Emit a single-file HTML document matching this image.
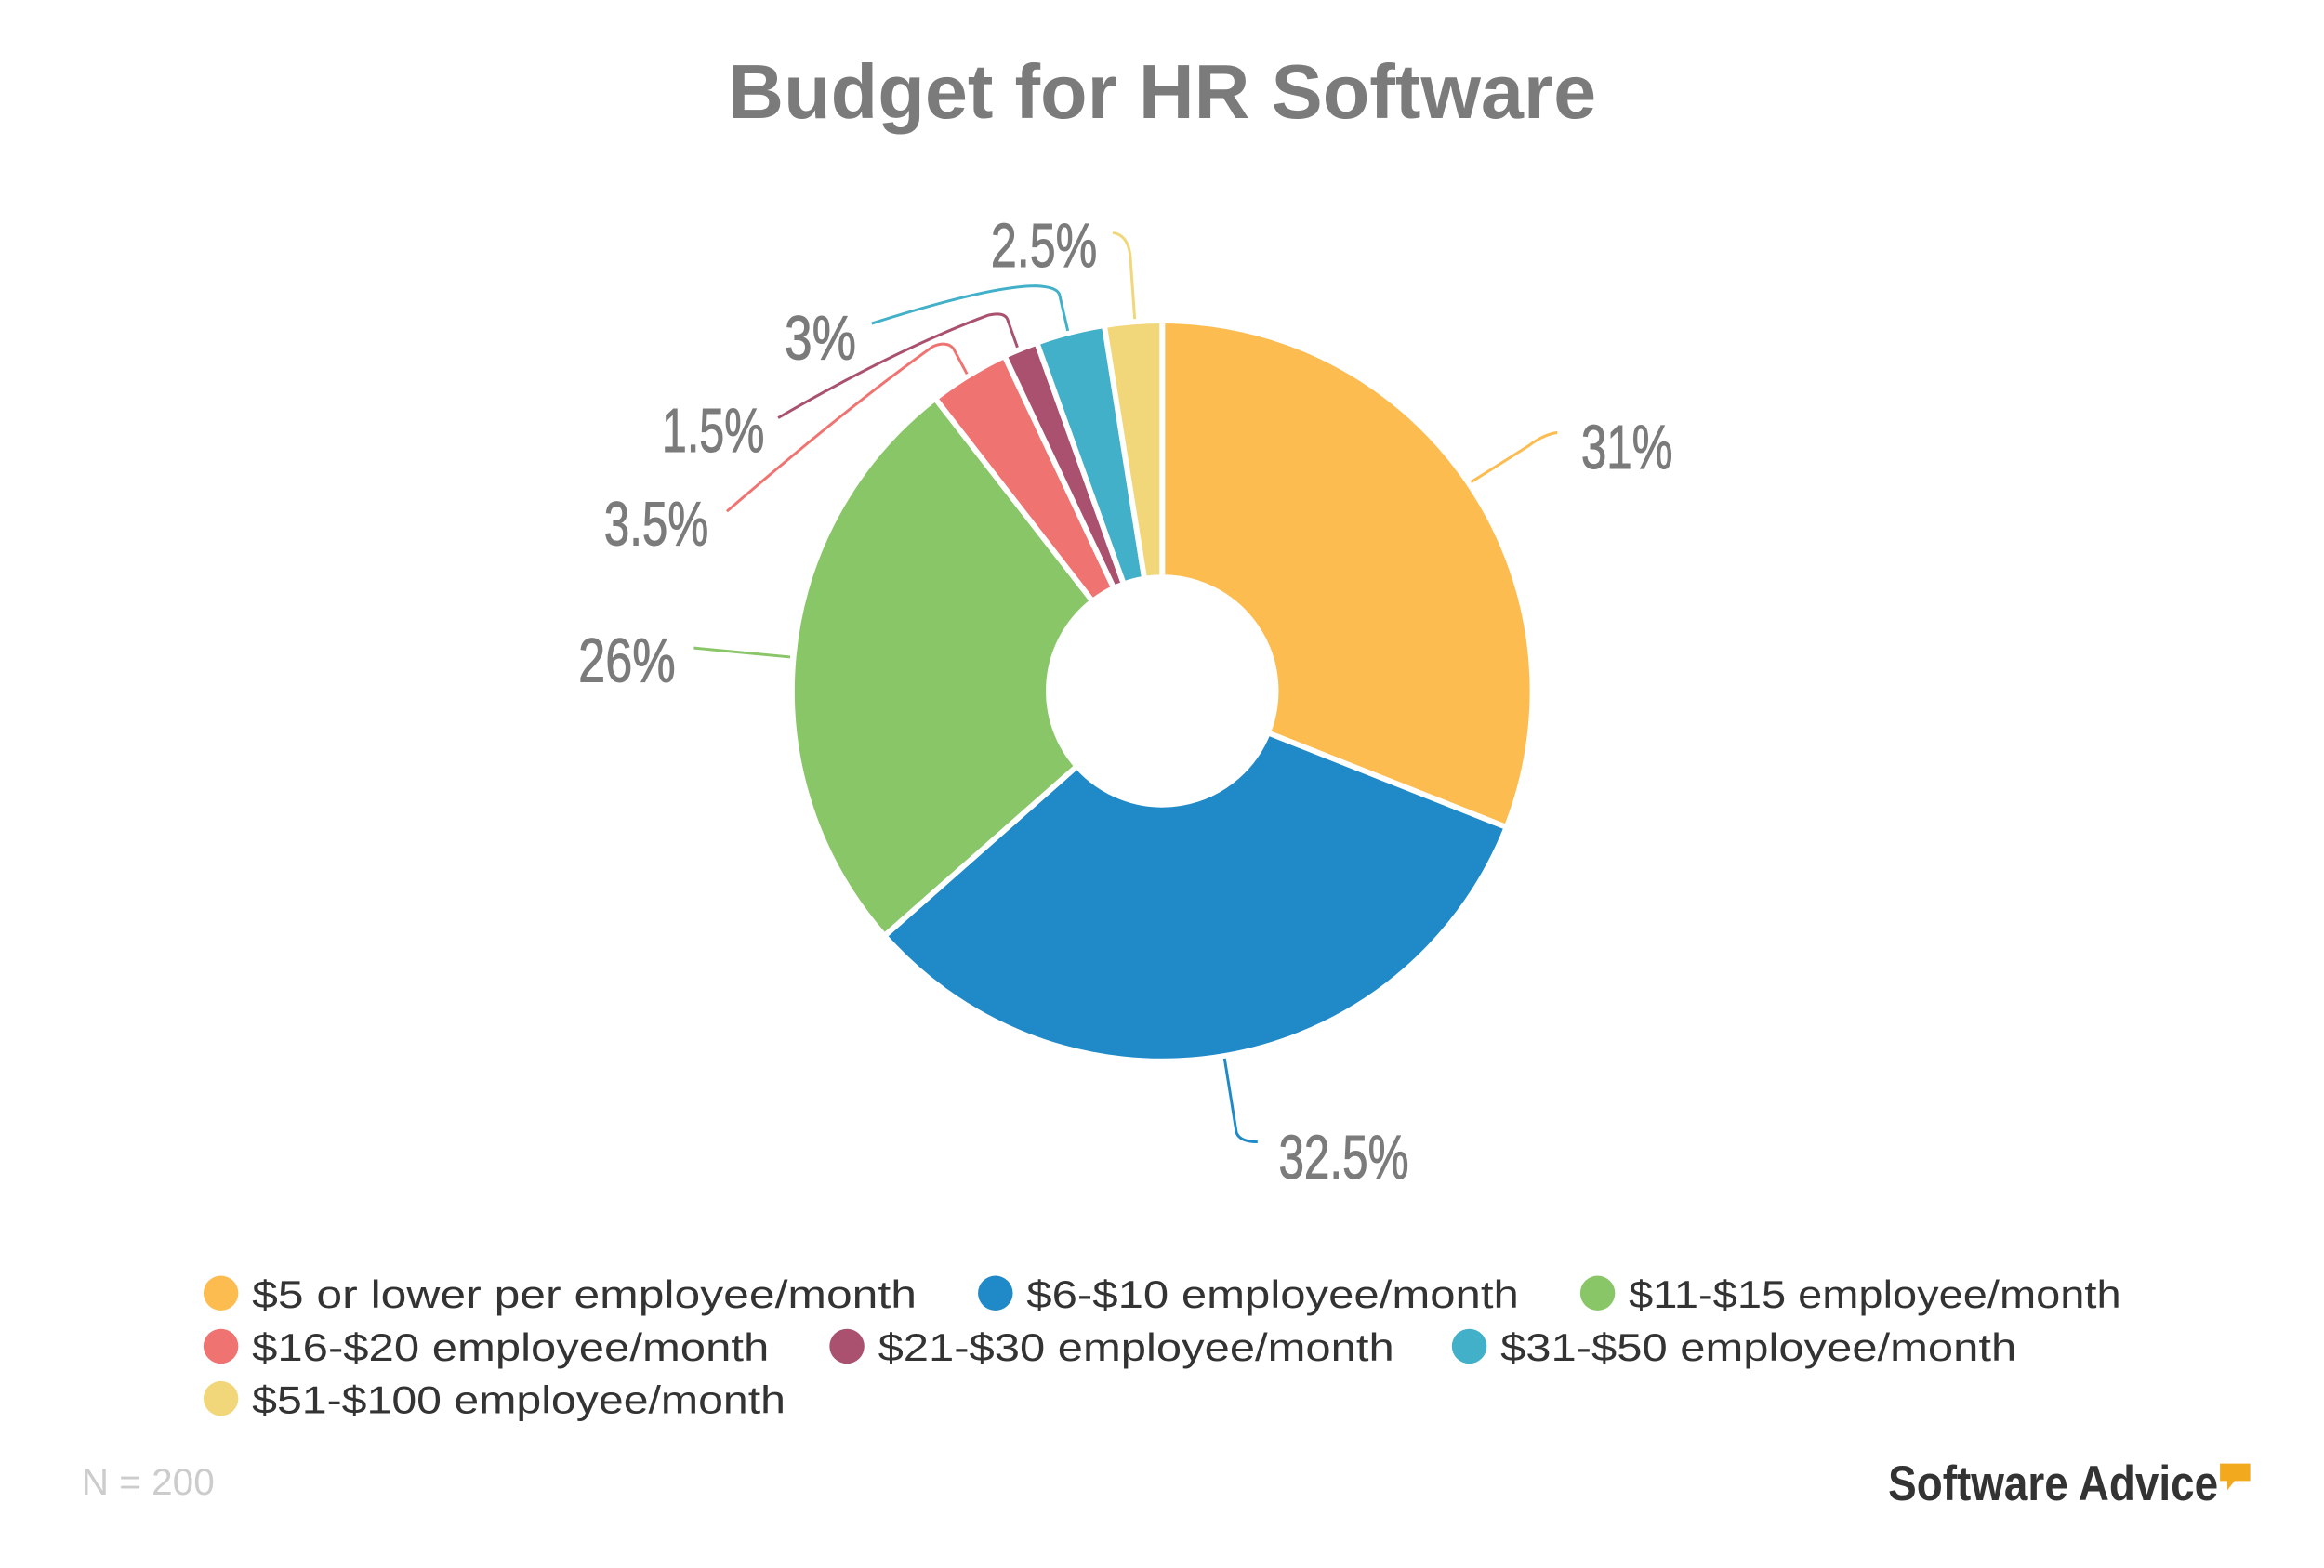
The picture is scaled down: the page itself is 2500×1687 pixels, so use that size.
<!DOCTYPE html>
<html><head><meta charset="utf-8"><style>
html,body{margin:0;padding:0;background:#fff;}
svg{display:block;}
</style></head><body>
<svg width="2500" height="1687" viewBox="0 0 2500 1687" xmlns="http://www.w3.org/2000/svg">
<rect width="2500" height="1687" fill="#fff"/>
<g transform="scale(0.986)">
<text x="1268" y="129" text-anchor="middle" font-family="Liberation Sans, sans-serif" font-weight="bold" font-size="84" fill="#7b7b7b">Budget for HR Software</text>
<g stroke="#fff" stroke-width="6" stroke-linejoin="miter">
<path d="M1268,350 A404,404 0 0 1 1643.6,902.7 L1383.3,799.6 A124,124 0 0 0 1268,630 Z" fill="#FDBC50"/>
<path d="M1643.6,902.7 A404,404 0 0 1 965.0,1021.2 L1175.0,836.0 A124,124 0 0 0 1383.3,799.6 Z" fill="#2089C8"/>
<path d="M965.0,1021.2 A404,404 0 0 1 1020.4,434.8 L1192.0,656.0 A124,124 0 0 0 1175.0,836.0 Z" fill="#88C668"/>
<path d="M1020.4,434.8 A404,404 0 0 1 1096.0,388.5 L1215.2,641.8 A124,124 0 0 0 1192.0,656.0 Z" fill="#EF7471"/>
<path d="M1096.0,388.5 A404,404 0 0 1 1131.2,373.9 L1226.0,637.3 A124,124 0 0 0 1215.2,641.8 Z" fill="#A9516E"/>
<path d="M1131.2,373.9 A404,404 0 0 1 1204.8,355.0 L1248.6,631.5 A124,124 0 0 0 1226.0,637.3 Z" fill="#42B0C9"/>
<path d="M1204.8,355.0 A404,404 0 0 1 1268,350 L1268,630 A124,124 0 0 0 1248.6,631.5 Z" fill="#F1D77A"/>
</g>
<g fill="none" stroke-width="3">
<path d="M1605,526 L1667,487 Q1684,474 1699,472" stroke="#FDBC50"/>
<path d="M1336,1155 L1349,1236 Q1353,1246 1372,1246" stroke="#2089C8"/>
<path d="M862,717 L757,707" stroke="#88C668"/>
<path d="M1055,408 L1040,380 Q1033,372 1018,378 Q930,440 793,558" stroke="#EF7471"/>
<path d="M1110,379 L1099,348 Q1095,340 1078,344 Q980,380 849,456" stroke="#A9516E"/>
<path d="M1165,361 L1156,322 Q1154,313 1130,312 Q1080,312 951,353" stroke="#42B0C9"/>
<path d="M1238,348 L1233,278 Q1230,256 1214,254" stroke="#F1D77A"/>
</g>
<g font-family="Liberation Sans Narrow, Liberation Sans, sans-serif" font-size="68" fill="#7b7b7b" stroke="#7b7b7b" stroke-width="1">
<text x="1725" y="511" textLength="100" lengthAdjust="spacingAndGlyphs">31%</text>
<text x="1395" y="1286" textLength="142" lengthAdjust="spacingAndGlyphs">32.5%</text>
<text x="631" y="744" textLength="106" lengthAdjust="spacingAndGlyphs">26%</text>
<text x="659" y="595" textLength="114" lengthAdjust="spacingAndGlyphs">3.5%</text>
<text x="722" y="493" textLength="112" lengthAdjust="spacingAndGlyphs">1.5%</text>
<text x="856" y="392" textLength="78" lengthAdjust="spacingAndGlyphs">3%</text>
<text x="1081" y="291" textLength="116" lengthAdjust="spacingAndGlyphs">2.5%</text>
</g>
<g font-family="Liberation Sans, sans-serif" font-size="42" fill="#333">
<circle cx="241" cy="1411" r="19" fill="#FDBC50"/><text x="275" y="1427" textLength="725" lengthAdjust="spacingAndGlyphs">$5 or lower per employee/month</text>
<circle cx="1086" cy="1411" r="19" fill="#2089C8"/><text x="1120" y="1427" textLength="537" lengthAdjust="spacingAndGlyphs">$6-$10 employee/month</text>
<circle cx="1743" cy="1411" r="19" fill="#88C668"/><text x="1777" y="1427" textLength="537" lengthAdjust="spacingAndGlyphs">$11-$15 employee/month</text>
<circle cx="241" cy="1469" r="19" fill="#EF7471"/><text x="275" y="1485" textLength="564" lengthAdjust="spacingAndGlyphs">$16-$20 employee/month</text>
<circle cx="924" cy="1469" r="19" fill="#A9516E"/><text x="958" y="1485" textLength="563" lengthAdjust="spacingAndGlyphs">$21-$30 employee/month</text>
<circle cx="1603" cy="1469" r="19" fill="#42B0C9"/><text x="1637" y="1485" textLength="563" lengthAdjust="spacingAndGlyphs">$31-$50 employee/month</text>
<circle cx="241" cy="1526" r="19" fill="#F1D77A"/><text x="275" y="1542" textLength="582" lengthAdjust="spacingAndGlyphs">$51-$100 employee/month</text>
</g>
<text x="89" y="1631" font-family="Liberation Sans, sans-serif" font-size="40" fill="#cccccc" textLength="145" lengthAdjust="spacingAndGlyphs">N = 200</text>
<text x="2060" y="1637" font-family="Liberation Sans Narrow, Liberation Sans, sans-serif" font-weight="bold" font-size="54" fill="#333" textLength="360" lengthAdjust="spacingAndGlyphs">Software Advice</text>
<path d="M2422,1597 L2455,1597 L2455,1616 L2438,1616 L2430,1626 L2430,1616 L2422,1616 Z" fill="#F2A91E"/>
</g>
</svg>
</body></html>
